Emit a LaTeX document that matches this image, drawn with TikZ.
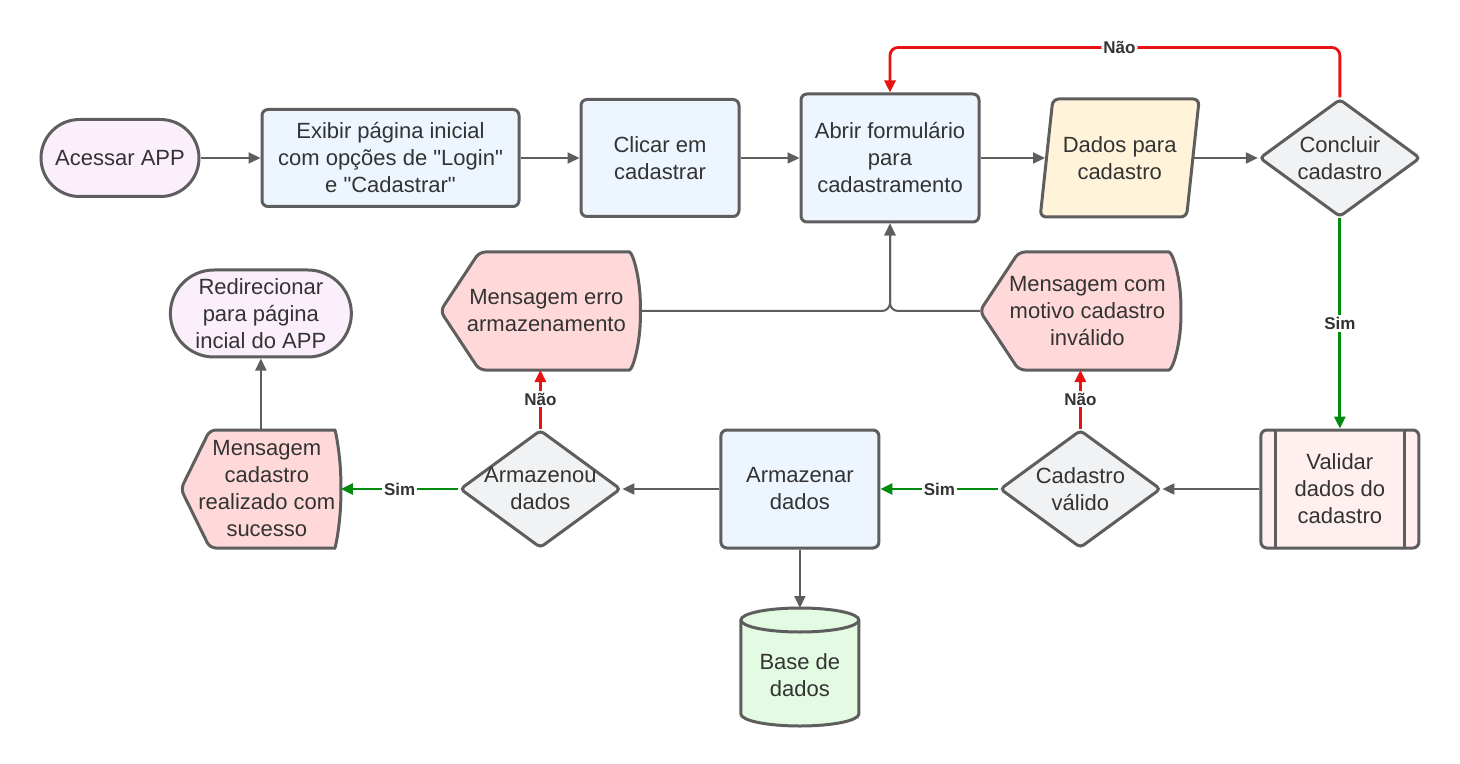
\documentclass[tikz,border=0pt]{standalone}
\usepackage{fontspec}
\setmainfont{Liberation Sans}[Ligatures=TeXOff]
\usetikzlibrary{positioning,arrows.meta,shapes.geometric,shapes.misc,backgrounds,calc}
\definecolor{lgray}{HTML}{5E5E5E}
\definecolor{tgray}{HTML}{333333}
\definecolor{pinkf}{HTML}{FBEFFC}
\definecolor{bluef}{HTML}{EDF5FF}
\definecolor{yelf}{HTML}{FFF3DA}
\definecolor{grayf}{HTML}{F1F2F4}
\definecolor{redf}{HTML}{FFD9D9}
\definecolor{rosef}{HTML}{FFEFEF}
\definecolor{greenf}{HTML}{E3FAE3}
\definecolor{nored}{HTML}{E81212}
\definecolor{simgreen}{HTML}{008A0E}
\newcommand{\nfont}{\fontsize{11pt}{13.5pt}\selectfont}
\tikzstyle{base}=[draw=lgray, line width=1.5pt, text=tgray, align=center, inner sep=0pt, font=\nfont]
\tikzstyle{tbox}=[base, rectangle, rounded corners=3pt, fill=bluef]
\tikzstyle{sbox}=[base, rounded rectangle, fill=pinkf]
\tikzstyle{dbox}=[base, diamond, rounded corners=2pt, fill=grayf, minimum width=80.5pt, minimum height=59pt]
\tikzstyle{iobox}=[base, trapezium, trapezium left angle=76, trapezium right angle=104, trapezium stretches=true, rounded corners=3pt, fill=yelf]
\tikzstyle{mbox}=[rectangle, minimum height=59pt, inner sep=0pt, outer sep=0pt]
\tikzstyle{ltxt}=[text=tgray, align=center, inner sep=0pt, font=\nfont]
\tikzstyle{sline}=[draw=lgray, line width=1.5pt]
\tikzstyle{pline}=[-{Triangle[length=6pt,width=5.5pt]}, draw=lgray, line width=1pt]
\tikzstyle{naoline}=[pline, draw=nored, line width=1.4pt]
\tikzstyle{simline}=[pline, draw=simgreen, line width=1.4pt]
\tikzstyle{lbl}=[fill=white, text=tgray, inner sep=1pt, font=\fontsize{8.5pt}{10pt}\selectfont\bfseries]
\newcommand{\msgshape}[3]{%
  \draw[sline, fill=redf, rounded corners=3pt] (#1.west) -- ($(#1.north west)+(#2,0)$) -- ($(#1.north east)+(-#3,0)$)
    .. controls ($(#1.north east)+(-0.45*#3,0)$) and ($(#1.east)+(0,16.3pt)$) .. (#1.east)
    .. controls ($(#1.east)+(0,-16.3pt)$) and ($(#1.south east)+(-0.45*#3,0)$) .. ($(#1.south east)+(-#3,0)$)
    -- ($(#1.south west)+(#2,0)$) -- cycle;}
\begin{document}
\begin{tikzpicture}
\useasboundingbox (0,0) rectangle (730pt,-382pt);
\node (ACESSAR) [sbox, minimum width=79pt, minimum height=38.5pt] at (60pt,-79pt) {Acessar APP};
\node (EXIBIR) [tbox, minimum width=128.5pt, minimum height=48.5pt, right=30pt of ACESSAR] {Exibir página inicial\\com opções de "Login"\\e "Cadastrar"};
 \draw[pline] (ACESSAR.east) -- (EXIBIR.west);
\node (CLICAR) [tbox, minimum width=79pt, minimum height=58.5pt, right=29.5pt of EXIBIR] {Clicar em\\cadastrar};
 \draw[pline] (EXIBIR.east) -- (CLICAR.west);
\node (ABRIR) [tbox, minimum width=89pt, minimum height=64pt, right=29.5pt of CLICAR] {Abrir formulário\\para\\cadastramento};
 \draw[pline] (CLICAR.east) -- (ABRIR.west);
\node (DADOS) [iobox, minimum width=80pt, minimum height=59pt, right=32.25pt of ABRIR] {Dados para\\cadastro};
 \draw[pline] (ABRIR.east) -- (DADOS.west);
\node (CONC) [dbox, right=31.75pt of DADOS, label={[ltxt]center:Concluir\\cadastro}] {};
 \draw[pline] (DADOS.east) -- (CONC.west);
 \coordinate (NAOTOP) at ($(CONC.north)+(0,25pt)$);
 \draw[naoline, rounded corners=4pt] (CONC.north) -- (NAOTOP) -| node[lbl, pos=0.245]{Não} (ABRIR.north);
\node (VALIDAR) [tbox, fill=rosef, minimum width=79pt, minimum height=59pt, below=105pt of CONC] {Validar\\dados do\\cadastro};
 \draw[sline] ($(VALIDAR.north west)+(8pt,-0.75pt)$) -- ($(VALIDAR.south west)+(8pt,0.75pt)$);
 \draw[sline] ($(VALIDAR.north east)+(-8pt,-0.75pt)$) -- ($(VALIDAR.south east)+(-8pt,0.75pt)$);
 \draw[simline] (CONC.south) -- node[lbl]{Sim} (VALIDAR.north);
\node (VALIDO) [dbox, left=48.5pt of VALIDAR, label={[ltxt]center:Cadastro\\válido}] {};
 \draw[pline] (VALIDAR.west) -- (VALIDO.east);
\node (MOTIVO) [mbox, minimum width=100.5pt, above=29.25pt of VALIDO, label={[ltxt,xshift=3.5pt]center:Mensagem com\\motivo cadastro\\inválido}] {};
 \draw[naoline] (VALIDO.north) -- node[lbl]{Não} (MOTIVO.south);
 \draw[pline, rounded corners=4pt] (MOTIVO.west) -| (ABRIR.south);
\node (ARMAZENAR) [tbox, minimum width=79pt, minimum height=59pt, left=59pt of VALIDO] {Armazenar\\dados};
 \draw[simline] (VALIDO.west) -- node[lbl]{Sim} (ARMAZENAR.east);
\node (BASE) [mbox, minimum width=59pt, below=29.25pt of ARMAZENAR, label={[ltxt,yshift=-4pt]center:Base de\\dados}] {};
 \draw[pline] (ARMAZENAR.south) -- (BASE.north);
\node (ARMAZENOU) [dbox, left=48.5pt of ARMAZENAR, label={[ltxt]center:Armazenou\\dados}] {};
 \draw[pline] (ARMAZENAR.west) -- (ARMAZENOU.east);
\node (ERRO) [mbox, minimum width=100pt, above=29.25pt of ARMAZENOU, label={[ltxt,xshift=3pt]center:Mensagem erro\\armazenamento}] {};
 \draw[naoline] (ARMAZENOU.north) -- node[lbl]{Não} (ERRO.south);
 \draw[pline, rounded corners=4pt] (ERRO.east) -| (ABRIR.south);
\node (SUCESSO) [mbox, minimum width=80pt, left=58.75pt of ARMAZENOU, label={[ltxt,xshift=3pt]center:Mensagem\\cadastro\\realizado com\\sucesso}] {};
 \draw[simline] (ARMAZENOU.west) -- node[lbl]{Sim} (SUCESSO.east);
\node (REDIR) [sbox, minimum width=90.5pt, minimum height=43.5pt, above=35.75pt of SUCESSO] {Redirecionar\\para página\\incial do APP};
 \draw[pline] (SUCESSO.north) -- (REDIR.south);
\begin{scope}[on background layer]
 \msgshape{MOTIVO}{19.5pt}{9pt}
 \msgshape{ERRO}{19.5pt}{8.5pt}
 \msgshape{SUCESSO}{14.5pt}{6pt}
 \draw[sline, fill=greenf] ($(BASE.north west)+(0,-6pt)$) -- ($(BASE.south west)+(0,6pt)$) arc[start angle=180, end angle=360, x radius=29.5pt, y radius=6pt] -- ($(BASE.north east)+(0,-6pt)$) arc[start angle=0, end angle=180, x radius=29.5pt, y radius=6pt] -- cycle;
 \draw[sline] ($(BASE.north west)+(0,-6pt)$) arc[start angle=180, end angle=360, x radius=29.5pt, y radius=6pt];
\end{scope}
\end{tikzpicture}
\end{document}
